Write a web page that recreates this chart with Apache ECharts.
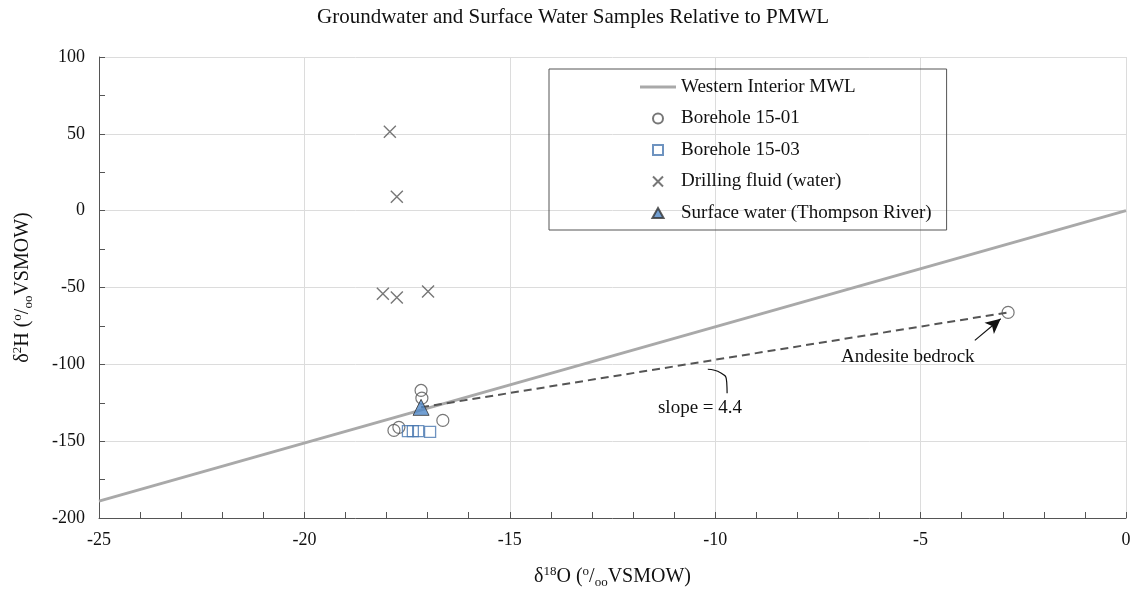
<!DOCTYPE html>
<html><head><meta charset="utf-8">
<script src="https://cdn.jsdelivr.net/npm/echarts@6/dist/echarts.min.js"></script>
<style>html,body{margin:0;padding:0;background:#fff}#c{width:1130px;height:590px}</style>
</head><body><div id="c"></div>
<script>
const FONT = '"Liberation Serif","Times New Roman",serif';
const mwlLine = [[-25, -189], [0, 0]];
const borehole1501 = [[-17.16, -117], [-17.14, -122], [-17.82, -143], [-17.7, -141], [-16.63, -136.5], [-2.87, -66.2]];
const borehole1503 = [[-17.48, -143.5], [-17.36, -143.5], [-17.23, -143.5], [-16.94, -144]];
const drillingFluid = [[-17.92, 51.3], [-17.75, 9], [-18.09, -54], [-17.75, -56.5], [-16.99, -52.6]];
const surfaceWater = [[-17.16, -128]];
const slopeLine = [[-17.16, -128], [-2.87, -66.2]];
const arrowSeg = [[-3.68, -84.4], [-3.05, -70.3]];
const slopeCurve = [[-10.18, -103.2], [-9.86, -105.6], [-9.72, -111.5], [-9.71, -118.8]];
const labelAndesite = [-5.31, -95.5];
const labelSlope = [-10.37, -128.5];

const chart = echarts.init(document.getElementById('c'));
const xMark = 'path://M0,0L10,10M10,0L0,10';
const richName = {
  sup: { fontSize: 13, verticalAlign: 'top', fontFamily: FONT, color: '#111', lineHeight: 24 },
  sub: { fontSize: 13, verticalAlign: 'bottom', fontFamily: FONT, color: '#111', lineHeight: 24 }
};
chart.setOption({
  animation: false,
  textStyle: { fontFamily: FONT },
  title: {
    text: 'Groundwater and Surface Water Samples Relative to PMWL',
    left: 317, top: 7, padding: 0,
    textStyle: { fontFamily: FONT, fontSize: 21, fontWeight: 'normal', color: '#111' }
  },
  legend: {
    orient: 'vertical', left: 549, top: 69,
    padding: [7, 15, 6, 91],
    borderColor: '#555', borderWidth: 1,
    itemWidth: 36, itemHeight: 10, itemGap: 9.5,
    textStyle: { fontFamily: FONT, fontSize: 19, color: '#111', lineHeight: 22 },
    data: [
      { name: 'Western Interior MWL', icon: 'path://M0,0L36,0L36,3L0,3Z' },
      { name: 'Borehole 15-01', icon: 'circle' },
      { name: 'Borehole 15-03', icon: 'path://M0,0L10,0L10,10L0,10Z' },
      { name: 'Drilling fluid (water)', icon: xMark },
      { name: 'Surface water (Thompson River)', icon: 'path://M5,0L10,9L0,9Z' }
    ]
  },
  grid: { left: 99, right: 4, top: 57, bottom: 72, outerBoundsMode: 'none', containLabel: false },
  xAxis: {
    type: 'value', min: -25, max: 0, interval: 5,
    name: 'δ{sup|18}O ({sup|o}/{sub|oo}VSMOW)',
    nameLocation: 'middle', nameGap: 47,
    nameTextStyle: { fontFamily: FONT, fontSize: 20, color: '#111', lineHeight: 24, rich: richName },
    axisLine: { show: true, onZero: false, lineStyle: { color: '#555', width: 1 } },
    axisTick: { show: true, inside: true, length: 6, lineStyle: { color: '#555' } },
    minorTick: { show: true, splitNumber: 5, length: 6, lineStyle: { color: '#555' } },
    axisLabel: { fontFamily: FONT, fontSize: 18, color: '#111', margin: 13 },
    splitLine: { show: true, lineStyle: { color: '#dcdcdc', width: 1 } }
  },
  yAxis: {
    type: 'value', min: -200, max: 100, interval: 50,
    name: 'δ{sup|2}H ({sup|o}/{sub|oo}VSMOW)',
    nameLocation: 'middle', nameGap: 64,
    nameTextStyle: { fontFamily: FONT, fontSize: 20, color: '#111', lineHeight: 24, rich: richName },
    axisLine: { show: true, onZero: false, lineStyle: { color: '#555', width: 1 } },
    axisTick: { show: true, inside: true, length: 6, lineStyle: { color: '#555' } },
    minorTick: { show: true, splitNumber: 2, length: 6, lineStyle: { color: '#555' } },
    axisLabel: { fontFamily: FONT, fontSize: 18, color: '#111', margin: 14 },
    splitLine: { show: true, lineStyle: { color: '#dcdcdc', width: 1 } }
  },
  series: [
    { name: 'Western Interior MWL', type: 'line', data: mwlLine, symbol: 'none', z: 2,
      lineStyle: { color: '#a9a9a9', width: 3 }, itemStyle: { color: '#a9a9a9' } },
    { name: 'slopeConnector', type: 'line', data: slopeCurve, symbol: 'none', smooth: 0.6, z: 3, silent: true,
      lineStyle: { color: '#111', width: 1.2 } },
    { name: 'slope', type: 'line', data: slopeLine, symbol: 'none', z: 3,
      lineStyle: { color: '#555', width: 2, type: [8, 5] },
      markLine: {
        silent: true, animation: false, label: { show: false },
        data: [
          [{ coord: arrowSeg[0], symbol: 'none' }, { coord: arrowSeg[1], symbol: 'arrow', symbolSize: [11, 15] }]
        ],
        lineStyle: { color: '#111', width: 1.2, type: 'solid' }
      },
      markPoint: {
        symbol: 'circle', symbolSize: 1, itemStyle: { color: 'transparent' },
        label: { show: true, position: 'inside', fontFamily: FONT, fontSize: 19, color: '#111' },
        data: [
          { coord: labelAndesite, value: 'Andesite bedrock', label: { formatter: 'Andesite bedrock' } },
          { coord: labelSlope, value: 'slope = 4.4', label: { formatter: 'slope = 4.4' } }
        ]
      }
    },
    { name: 'Drilling fluid (water)', type: 'scatter', data: drillingFluid, symbol: xMark, symbolSize: 12, z: 4,
      itemStyle: { color: 'transparent', borderColor: '#555', borderWidth: 1.4 } },
    { name: 'Borehole 15-01', type: 'scatter', data: borehole1501, symbol: 'circle', symbolSize: 12, z: 4,
      itemStyle: { color: 'rgba(255,255,255,0)', borderColor: '#555', borderWidth: 1.2 } },
    { name: 'Borehole 15-03', type: 'scatter', data: borehole1503, symbol: 'rect', symbolSize: 11, z: 4,
      itemStyle: { color: 'rgba(255,255,255,0)', borderColor: '#4a78b0', borderWidth: 1.3 } },
    { name: 'Surface water (Thompson River)', type: 'scatter', data: surfaceWater, symbol: 'triangle', symbolSize: 16, z: 5,
      itemStyle: { color: '#4f87c7', borderColor: '#333', borderWidth: 1 } }
  ]
});
</script></body></html>
